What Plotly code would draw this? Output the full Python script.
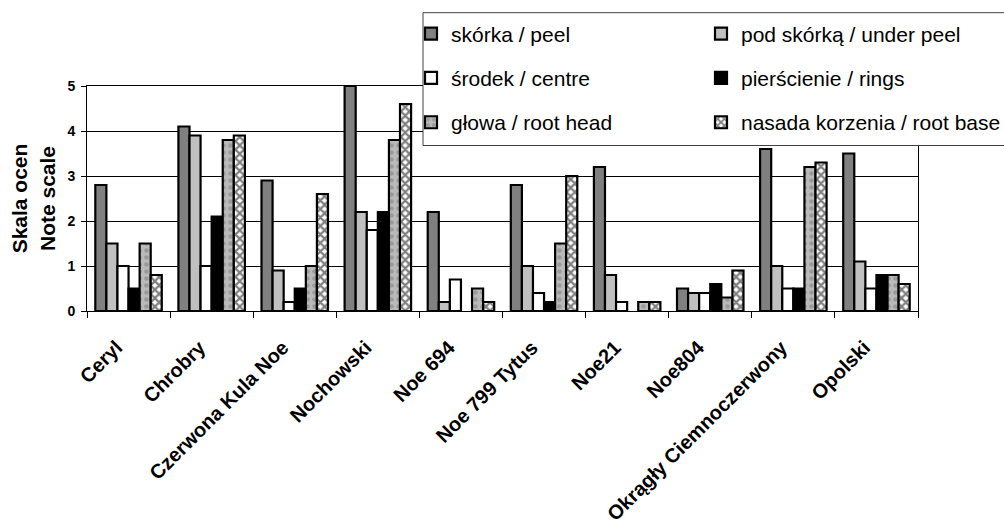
import plotly.graph_objects as go

# Varieties (x categories)
varieties = ["Ceryl", "Chrobry", "Czerwona Kula Noe", "Nochowski", "Noe 694",
             "Noe 799 Tytus", "Noe21", "Noe804", "Okrągły Ciemnoczerwony", "Opolski"]

# Scores per root zone (None = no score given)
peel = [2.8, 4.1, 2.9, 5.0, 2.2, 2.8, 3.2, 0.5, 3.6, 3.5]
under_peel = [1.5, 3.9, 0.9, 2.2, 0.2, 1.0, 0.8, 0.4, 1.0, 1.1]
centre = [1.0, 1.0, 0.2, 1.8, 0.7, 0.4, 0.2, 0.4, 0.5, 0.5]
rings = [0.5, 2.1, 0.5, 2.2, None, 0.2, None, 0.6, 0.5, 0.8]
root_head = [1.5, 3.8, 1.0, 3.8, 0.5, 1.5, 0.2, 0.3, 3.2, 0.8]
root_base = [0.8, 3.9, 2.6, 4.6, 0.2, 3.0, 0.2, 0.9, 3.3, 0.6]

y_ticks = [0, 1, 2, 3, 4, 5]

FONT = "Liberation Sans, Arial, sans-serif"
W, H = 1004, 526
L, R, T, B = 87, 86, 86, 215
PW, PH = W - L - R, H - T - B


def px_x(x):
    return (x - L) / PW


def px_y(y):
    return (H - B - y) / PH


series = [
    ("skórka / peel", peel, dict(color="#808080")),
    ("pod skórką / under peel", under_peel, dict(color="#c0c0c0")),
    ("środek / centre", centre, dict(color="#ffffff")),
    ("pierścienie / rings", rings, dict(color="#000000")),
    ("głowa / root head", root_head,
     dict(color="#b0b0b0",
          pattern=dict(shape=".", bgcolor="#bababa", fgcolor="#7a7a7a",
                       size=7, solidity=0.35))),
    ("nasada korzenia / root base", root_base,
     dict(color="#ffffff",
          pattern=dict(shape="x", bgcolor="#ffffff", fgcolor="#000000",
                       size=6, solidity=0.6))),
]

fig = go.Figure()
for i, (name, vals, mk) in enumerate(series):
    # left legend column is narrower; right column gets room for its longer text
    fig.add_trace(go.Bar(
        x=varieties, y=vals, name=name, legendgroup=f"g{i}",
        legendwidth=245 if i % 2 == 0 else 275,
        marker=dict(line=dict(color="#000000", width=2.2), **mk),
    ))

# Legend frame (white box that hides grid lines behind the legend)
fig.add_shape(type="rect", xref="paper", yref="paper",
              x0=px_x(423), x1=px_x(1012), y0=px_y(145.5), y1=px_y(12.7),
              line=dict(color="#404040", width=1), fillcolor="#ffffff",
              layer="above")

fig.update_layout(
    width=W, height=H,
    margin=dict(l=L, r=R, t=T, b=B, autoexpand=False),
    paper_bgcolor="#ffffff", plot_bgcolor="#ffffff",
    barmode="group", bargap=0.2, bargroupgap=0,
    font=dict(family=FONT, color="#000000"),
    legend=dict(
        orientation="h", traceorder="grouped",
        x=px_x(411), xanchor="left", y=px_y(13.5), yanchor="top",
        entrywidthmode="pixels", tracegroupgap=14,
        bgcolor="rgba(0,0,0,0)", borderwidth=0,
        font=dict(family=FONT, size=21, color="#000000"),
    ),
    xaxis=dict(
        type="category", tickangle=-45, tickson="boundaries",
        ticks="outside", ticklen=6, tickcolor="#000000", tickwidth=1,
        showline=True, linecolor="#000000", linewidth=1, mirror=True,
        showgrid=False, ticklabelstandoff=16, ticklabelshift=-12,
        tickfont=dict(family=FONT, size=20, weight="bold", color="#000000"),
    ),
    yaxis=dict(
        range=[0, 5], tickvals=y_ticks,
        ticks="outside", ticklen=5, tickcolor="#000000", tickwidth=1,
        showline=True, linecolor="#000000", linewidth=1, mirror=True,
        showgrid=True, gridcolor="#000000", gridwidth=1, zeroline=False,
        ticklabelstandoff=3,
        tickfont=dict(family=FONT, size=14, weight="bold", color="#000000"),
        title=dict(text="Skala ocen<br>Note scale", standoff=6,
                   font=dict(family=FONT, size=21, weight="bold", color="#000000")),
    ),
)

fig.write_html("out.html")
